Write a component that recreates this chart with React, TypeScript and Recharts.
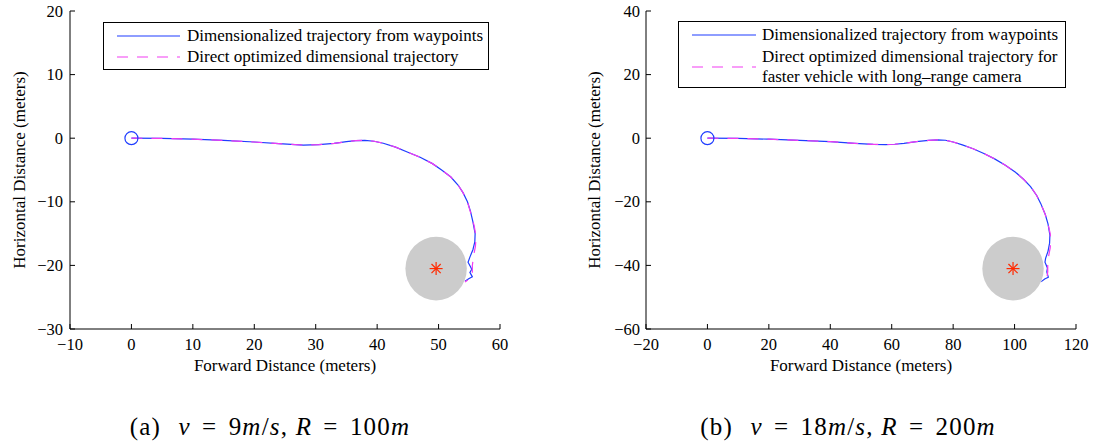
import React from "react";
import { ComposedChart, Line, Scatter, XAxis, YAxis, Legend } from "recharts";

const FONT = '"Liberation Serif", "Times New Roman", serif';
const BLUE = "#1f3dff";
const MAGENTA = "#f23cf2";
const TARGET_RED = "#ff2a00";
const DISC_GREY = "#cccccc";

// panel (a): v = 9 m/s, R = 100 m
const waypointsA: [number, number][] = [
  [0, 0], [5, -0.02], [10, -0.15], [15, -0.35], [20, -0.6], [24, -0.85], [28, -1.08],
  [30.5, -1.0], [33, -0.82], [35, -0.55], [36.5, -0.38], [38, -0.33], [39.5, -0.48],
  [41, -0.8], [43, -1.4], [45, -2.2], [47, -3.0], [49, -4.0], [50.5, -5.0], [52, -6.1],
  [53.2, -7.4], [54, -8.6], [54.7, -10], [55.2, -11.5], [55.6, -13.2], [55.95, -15],
  [55.9, -16.3], [55.6, -17.5], [55.1, -18.7], [54.8, -19.5], [55.2, -20.2], [55.4, -20.6],
  [55.1, -21.1], [55.5, -21.8], [54.9, -22.1], [54.3, -22.5],
];
const directA: [number, number][] = [
  [0, 0], [5, -0.02], [10, -0.15], [15, -0.35], [20, -0.6], [24, -0.85], [28, -1.08],
  [30.5, -1.0], [33, -0.82], [35, -0.55], [36.5, -0.38], [38, -0.33], [39.5, -0.48],
  [41, -0.8], [43, -1.4], [45, -2.2], [47, -3.0], [49, -4.0], [50.5, -5.0], [52, -6.1],
  [53.2, -7.4], [54, -8.6], [54.7, -10], [55.3, -12], [55.8, -13.8], [56.1, -15.5],
  [56.0, -17], [55.7, -18.5], [55.5, -20], [55.5, -21.3], [55.2, -22], [54.3, -22.6],
];
const startA: [number, number][] = [[0, 0]];
const targetA: [number, number][] = [[49.6, -20.5]];
const targetRadiusA = 5;
const xTicksA = [-10, 0, 10, 20, 30, 40, 50, 60];
const yTicksA = [20, 10, 0, -10, -20, -30];
const legendA = [
  ["Dimensionalized trajectory from waypoints"],
  ["Direct optimized dimensional trajectory"],
];

// panel (b): v = 18 m/s, R = 200 m
const waypointsB: [number, number][] = [
  [0, 0], [10, -0.05], [20, -0.3], [30, -0.7], [40, -1.1], [48, -1.6], [54, -1.95],
  [58, -2.0], [61, -1.9], [64, -1.6], [68, -1.1], [72, -0.7], [75, -0.5], [77.5, -0.65],
  [80, -1.2], [83, -2.1], [86.5, -3.3], [90, -4.8], [93.5, -6.5], [97, -8.5], [100.3, -10.7],
  [103, -13], [105.2, -15.2], [107.2, -18], [108.5, -20.5], [110.0, -24], [110.9, -27],
  [111.5, -30.5], [111.4, -33], [110.9, -35.5], [110.1, -37.8], [109.9, -39], [110.7, -40.8],
  [110.5, -42.1], [111.0, -43.7], [109.8, -44.3], [108.7, -45.1],
];
const directB: [number, number][] = [
  [0, 0], [10, -0.05], [20, -0.3], [30, -0.7], [40, -1.1], [48, -1.6], [54, -1.95],
  [58, -2.0], [61, -1.9], [64, -1.6], [68, -1.1], [72, -0.7], [75, -0.5], [77.5, -0.65],
  [80, -1.2], [83, -2.1], [86.5, -3.3], [90, -4.8], [93.5, -6.5], [97, -8.5], [100.3, -10.7],
  [103, -13], [105.2, -15.2], [107.2, -18], [108.5, -20.5], [110.0, -24], [110.9, -27],
  [111.6, -30], [111.8, -32], [111.6, -34.5], [111.1, -37], [110.8, -39.5], [110.8, -42],
  [110.6, -43.5], [110.1, -44.5], [108.5, -45.2],
];
const startB: [number, number][] = [[0, 0]];
const targetB: [number, number][] = [[99.5, -41]];
const targetRadiusB = 10;
const xTicksB = [-20, 0, 20, 40, 60, 80, 100, 120];
const yTicksB = [40, 20, 0, -20, -40, -60];
const legendB = [
  ["Dimensionalized trajectory from waypoints"],
  ["Direct optimized dimensional trajectory for", "faster vehicle with long\u2013range camera"],
];

const CHART_H = 380;
const TOP = 11;
const XAXIS_H = 51;

const toPts = (arr: [number, number][]) => arr.map(([x, y]) => ({ x, y }));
const fmt = (v: number) => (v < 0 ? "\u2212" + Math.abs(v) : String(v));

const tickText = { fontFamily: FONT, fontSize: 16.5, fill: "#000" };
const titleText = { fontFamily: FONT, fontSize: 17, fill: "#000" };

function XTick({ x, y, payload }: any) {
  return (
    <text x={x} y={y} dy="0.71em" textAnchor="middle" style={tickText}>
      {fmt(payload.value)}
    </text>
  );
}

function YTick({ x, y, payload }: any) {
  return (
    <text x={x} y={y} dy="0.34em" textAnchor="end" style={tickText}>
      {fmt(payload.value)}
    </text>
  );
}

function Asterisk({ cx, cy }: any) {
  const r = 6.5;
  const d = r * 0.7071;
  return (
    <g stroke={TARGET_RED} strokeWidth={1.2}>
      <line x1={cx - r} y1={cy} x2={cx + r} y2={cy} />
      <line x1={cx} y1={cy - r} x2={cx} y2={cy + r} />
      <line x1={cx - d} y1={cy - d} x2={cx + d} y2={cy + d} />
      <line x1={cx - d} y1={cy + d} x2={cx + d} y2={cy - d} />
    </g>
  );
}

type LegendLayout = {
  left: number;
  top: number;
  width: number;
  height: number;
  sampleX: number;
  sampleW: number;
  textX: number;
  rows: number[]; // centre of each entry
  lineH: number;
};

function LegendBox({ names, box }: { names: string[][]; box: LegendLayout }) {
  return (
    <div
      style={{
        position: "relative",
        width: box.width,
        height: box.height,
        border: "1.3px solid #000",
        background: "#fff",
        boxSizing: "border-box",
        fontFamily: FONT,
        fontSize: 17,
        color: "#000",
      }}
    >
      {names.map((lines, i) => {
        const cy = box.rows[i];
        return (
          <React.Fragment key={i}>
            <svg
              style={{ position: "absolute", left: box.sampleX, top: cy - 3 }}
              width={box.sampleW}
              height={6}
            >
              <line
                x1={0}
                y1={3}
                x2={box.sampleW}
                y2={3}
                stroke={i === 0 ? BLUE : MAGENTA}
                strokeWidth={1.2}
                strokeDasharray={i === 0 ? undefined : "11 9"}
              />
            </svg>
            <div
              style={{
                position: "absolute",
                left: box.textX,
                top: cy - (lines.length * box.lineH) / 2,
                lineHeight: `${box.lineH}px`,
                whiteSpace: "nowrap",
              }}
            >
              {lines.map((t, j) => (
                <div key={j}>{t}</div>
              ))}
            </div>
          </React.Fragment>
        );
      })}
    </div>
  );
}

type PanelProps = {
  left: number;
  width: number;
  yAxisWidth: number;
  marginRight: number;
  xDomain: [number, number];
  yDomain: [number, number];
  xTicks: number[];
  yTicks: number[];
  waypoints: [number, number][];
  direct: [number, number][];
  start: [number, number][];
  target: [number, number][];
  radius: number;
  names: string[][];
  legendBox: LegendLayout;
  yLabelX: number;
  yTickMargin: number;
};

function Panel(p: PanelProps) {
  const plotW = p.width - p.yAxisWidth - p.marginRight;
  const plotH = CHART_H - TOP - XAXIS_H;
  const pxX = plotW / (p.xDomain[1] - p.xDomain[0]);
  const pxY = plotH / (p.yDomain[1] - p.yDomain[0]);

  const Disc = ({ cx, cy }: any) => (
    <ellipse cx={cx} cy={cy} rx={p.radius * pxX} ry={p.radius * pxY} fill={DISC_GREY} />
  );
  const StartRing = ({ cx, cy }: any) => (
    <circle cx={cx} cy={cy} r={6.5} fill="none" stroke={BLUE} strokeWidth={1.2} />
  );

  const xTitle = ({ viewBox }: any) => (
    <text
      x={viewBox.x + viewBox.width / 2}
      y={viewBox.y + 36}
      dy="0.34em"
      textAnchor="middle"
      style={titleText}
    >
      Forward Distance (meters)
    </text>
  );
  const yTitle = ({ viewBox }: any) => {
    const cx = viewBox.x + p.yLabelX;
    const cy = viewBox.y + viewBox.height / 2;
    return (
      <text
        x={cx}
        y={cy}
        dy="0.34em"
        textAnchor="middle"
        transform={`rotate(-90 ${cx} ${cy})`}
        style={titleText}
      >
        Horizontal Distance (meters)
      </text>
    );
  };

  return (
    <div style={{ position: "absolute", left: p.left, top: 0 }}>
      <ComposedChart
        width={p.width}
        height={CHART_H}
        margin={{ top: TOP, right: p.marginRight, bottom: 0, left: 0 }}
      >
        <XAxis
          type="number"
          dataKey="x"
          domain={p.xDomain}
          ticks={p.xTicks}
          allowDataOverflow
          height={XAXIS_H}
          stroke="#000"
          tickSize={-5}
          tickMargin={14}
          tick={<XTick />}
          label={xTitle}
        />
        <YAxis
          type="number"
          dataKey="y"
          domain={p.yDomain}
          ticks={p.yTicks}
          allowDataOverflow
          width={p.yAxisWidth}
          stroke="#000"
          tickSize={-5}
          tickMargin={p.yTickMargin}
          tick={<YTick />}
          label={yTitle}
        />
        <Scatter data={toPts(p.target)} shape={Disc} isAnimationActive={false} />
        <Line
          data={toPts(p.waypoints)}
          dataKey="y"
          type="linear"
          stroke={BLUE}
          strokeWidth={1.2}
          dot={false}
          activeDot={false}
          isAnimationActive={false}
        />
        <Line
          data={toPts(p.direct)}
          dataKey="y"
          type="linear"
          stroke={MAGENTA}
          strokeWidth={1.2}
          strokeDasharray="11 9"
          dot={false}
          activeDot={false}
          isAnimationActive={false}
        />
        <Scatter data={toPts(p.start)} shape={StartRing} isAnimationActive={false} />
        <Scatter data={toPts(p.target)} shape={Asterisk} isAnimationActive={false} />
        <Legend
          layout="vertical"
          align="center"
          verticalAlign="middle"
          wrapperStyle={{ left: p.legendBox.left, top: p.legendBox.top, width: p.legendBox.width }}
          content={() => <LegendBox names={p.names} box={p.legendBox} />}
        />
      </ComposedChart>
    </div>
  );
}

function Caption({ center, tag, v, r }: { center: number; tag: string; v: string; r: string }) {
  const it = { fontStyle: "italic" as const };
  const eq = { margin: "0 0.45em" };
  return (
    <div
      style={{
        position: "absolute",
        left: center - 200,
        width: 400,
        top: 413,
        lineHeight: "28px",
        textAlign: "center",
        fontFamily: FONT,
        fontSize: 25,
        letterSpacing: 1.2,
        color: "#000",
        whiteSpace: "nowrap",
      }}
    >
      <span style={{ marginRight: "0.7em" }}>({tag})</span>
      <span style={it}>v</span>
      <span style={eq}>=</span>
      {v}
      <span style={it}>m</span>/<span style={it}>s</span>,{" "}
      <span style={it}>R</span>
      <span style={eq}>=</span>
      {r}
      <span style={it}>m</span>
    </div>
  );
}

export default function App() {
  return (
    <div
      style={{
        position: "absolute",
        left: 0,
        top: 0,
        width: 1096,
        height: 445,
        background: "#fff",
        overflow: "hidden",
        fontFamily: FONT,
      }}
    >
      <Panel
        left={0}
        width={520}
        yAxisWidth={70}
        marginRight={20}
        xDomain={[-10, 60]}
        yDomain={[-30, 20]}
        xTicks={xTicksA}
        yTicks={yTicksA}
        waypoints={waypointsA}
        direct={directA}
        start={startA}
        target={targetA}
        radius={targetRadiusA}
        names={legendA}
        yLabelX={19}
        yTickMargin={12}
        legendBox={{
          left: 103,
          top: 22,
          width: 386,
          height: 48,
          sampleX: 13,
          sampleW: 63,
          textX: 83,
          rows: [13, 34],
          lineH: 19.5,
        }}
      />
      <Panel
        left={560}
        width={530}
        yAxisWidth={86}
        marginRight={14}
        xDomain={[-20, 120]}
        yDomain={[-60, 40]}
        xTicks={xTicksB}
        yTicks={yTicksB}
        waypoints={waypointsB}
        direct={directB}
        start={startB}
        target={targetB}
        radius={targetRadiusB}
        names={legendB}
        yLabelX={34}
        yTickMargin={11}
        legendBox={{
          left: 118,
          top: 21,
          width: 388,
          height: 67,
          sampleX: 13,
          sampleW: 64,
          textX: 83,
          rows: [13, 44.5],
          lineH: 19.5,
        }}
      />
      <Caption center={270} tag="a" v="9" r="100" />
      <Caption center={848} tag="b" v="18" r="200" />
    </div>
  );
}
